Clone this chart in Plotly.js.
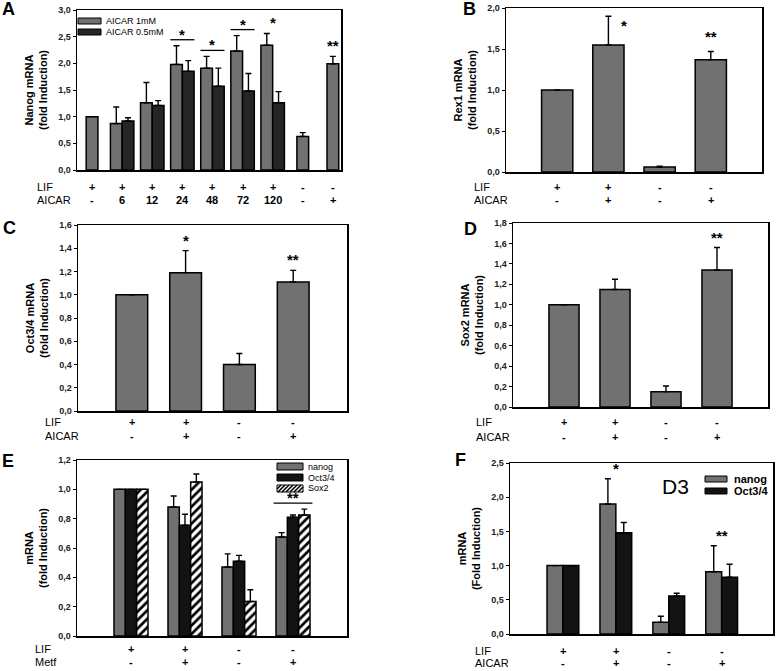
<!DOCTYPE html>
<html>
<head>
<meta charset="utf-8">
<script src="https://cdn.plot.ly/plotly-3.0.1.min.js"></script>
<style>
body{margin:0;background:#fff}
#fig{width:777px;height:671px}
</style>
</head>
<body>
<div id="fig"></div>
<script>
// ---- data ----
// A: nanog time course (hours of AICAR)
var catsA = [0,1,2,3,4,5,6,7,8];
var lifA = ['+','+','+','+','+','+','+','-','-'];
var aicarA = ['-','6','12','24','48','72','120','-','+'];
var nanog1mM = [1.0,0.87,1.26,1.98,1.91,2.23,2.34,0.63,1.99];
var nanog1mMErr = [0,0.31,0.38,0.35,0.22,0.29,0.22,0.07,0.14];
var nanog05mM = [null,0.92,1.21,1.85,1.57,1.48,1.26,null,null];
var nanog05mMErr = [null,0.06,0.09,0.20,0.34,0.33,0.21,null,null];
var sigAIdx = [3,4,5,6,8];
var sigAText = ['*','*','*','*','**'];
var sigALine = [true,true,true,false,false];

// B, C, D, F: four conditions
var cats4 = [0,1,2,3];
var lif4 = ['+','+','-','-'];
var drug4 = ['-','+','-','+'];

var rex1 = [1.0,1.55,0.06,1.37];
var rex1Err = [0,0.35,0.01,0.10];
var sigBIdx = [1,3];
var sigBText = ['*','**'];

var oct34 = [1.0,1.19,0.40,1.11];
var oct34Err = [0,0.19,0.095,0.10];
var sigCIdx = [1,3];
var sigCText = ['*','**'];

var sox2 = [1.0,1.15,0.15,1.34];
var sox2Err = [0,0.10,0.055,0.22];
var sigDIdx = [3];
var sigDText = ['**'];

// E: metformin
var metfNanog = [1.0,0.88,0.47,0.675];
var metfNanogErr = [0,0.075,0.09,0.03];
var metfOct = [1.0,0.755,0.51,0.81];
var metfOctErr = [0,0.075,0.04,0.015];
var metfSox = [1.0,1.05,0.235,0.825];
var metfSoxErr = [0,0.055,0.08,0.04];
var sigEIdx = [3];
var sigEText = ['**'];

// F: D3 cells
var d3Nanog = [1.0,1.90,0.17,0.91];
var d3NanogErr = [0,0.37,0.09,0.38];
var d3Oct = [1.0,1.48,0.555,0.83];
var d3OctErr = [0,0.15,0.04,0.19];
var sigFIdx = [1,3];
var sigFText = ['*','**'];

// ---- helpers ----
var W = 777, H = 671;
var FONT = 'Liberation Sans, Arial, sans-serif';
var GRAY = '#717171', DARK = '#262626', BLACK = '#131313';
function px(x){ return x / W; }
function py(y){ return 1 - y / H; }

var data = [], annotations = [], shapes = [];
var layout = {
  width: W, height: H,
  margin: {l:0, r:0, t:0, b:0},
  paper_bgcolor: '#fff', plot_bgcolor: '#fff',
  font: {family: FONT, color: '#000'},
  separators: ',.',
  barmode: 'overlay',
  showlegend: false
};

// panel geometry in pixels
var panels = {
  A: {s:'',  x:[77,341],  y:[10,170],  xr:[-0.5,8.27], yr:[0,3],   dt:0.5, title:'Nanog mRNA<br>(fold Induction)'},
  B: {s:'2', x:[506,762], y:[8,172],   xr:[-1,4],     yr:[0,2],   dt:0.5, title:'Rex1 mRNA<br>(fold Induction)'},
  C: {s:'3', x:[78,347],  y:[225,411], xr:[-1,4],     yr:[0,1.6], dt:0.2, title:'Oct3/4 mRNA<br>(fold Induction)'},
  D: {s:'4', x:[513,768], y:[223,407], xr:[-1,4],     yr:[0,1.8], dt:0.2, title:'Sox2 mRNA<br>(fold Induction)'},
  E: {s:'5', x:[77,347],  y:[460,636], xr:[-1,4],     yr:[0,1.2], dt:0.2, title:'mRNA<br>(fold Induction)'},
  F: {s:'6', x:[510,773], y:[463,634], xr:[-1,3.97],  yr:[0,2.5], dt:0.5, title:'mRNA<br>(Fold Induction)'}
};

function setupAxes(p){
  layout['xaxis'+p.s] = {
    domain:[px(p.x[0]), px(p.x[1])], range:p.xr, anchor:'y'+p.s,
    showline:true, mirror:true, linecolor:'#000', linewidth:1.5,
    showticklabels:false, ticks:'', showgrid:false, zeroline:false, fixedrange:true
  };
  layout['yaxis'+p.s] = {
    domain:[py(p.y[1]), py(p.y[0])], range:p.yr, anchor:'x'+p.s, dtick:p.dt,
    tickformat:'.1f', ticks:'outside', ticklen:3, tickwidth:1, tickcolor:'#000',
    showline:true, mirror:true, linecolor:'#000', linewidth:1.5,
    showgrid:false, zeroline:false, fixedrange:true, automargin:false,
    tickfont:{size:9, weight:'bold', color:'#222'},
    title:{text:p.title, font:{size:11, weight:'bold'}, standoff:8}
  };
}

function pxPerUnit(p){ return (p.y[1] - p.y[0]) / (p.yr[1] - p.yr[0]); }

function errBar(arr){
  return {type:'data', array:arr, arrayminus:arr.map(function(v){ return v == null ? null : 0; }),
          symmetric:false, color:'#000', thickness:1.4, width:3};
}

function addBar(p, x, y, err, color, w, off, hatch){
  var t = {
    type:'bar', x:x, y:y, width:w, offset:off,
    xaxis:'x'+p.s, yaxis:'y'+p.s,
    marker:{color:color, line:{color:'#000', width:1.5}},
    error_y: errBar(err), hoverinfo:'skip'
  };
  if (hatch) t.marker.pattern = {shape:'/', fgcolor:'#000', bgcolor:'#fff', size:6, solidity:0.45};
  data.push(t);
}

function rows(p, x, row1, row2, names, labelX, y1, y2){
  [[row1,y1],[row2,y2]].forEach(function(r, k){
    annotations.push({xref:'paper', yref:'paper', x:px(labelX), y:py(r[1]), xanchor:'left', yanchor:'middle',
      text:names[k], showarrow:false, font:{size:11}});
    r[0].forEach(function(v, i){
      annotations.push({xref:'x'+p.s, yref:'paper', x:x[i], y:py(r[1]), xanchor:'center', yanchor:'middle',
        text:v, showarrow:false, font:{size:11, weight:'bold'}});
    });
  });
}

// stars above the highest error bar of a group, optional bracket line
function sig(p, idx, text, series, withLine, halfSpan, xshift, yshift){
  var top = 0;
  series.forEach(function(s){
    var v = s[0][idx], e = s[1][idx];
    if (v != null) top = Math.max(top, v + (e || 0));
  });
  var y = top, ys = yshift || 0;
  if (withLine){
    y = top + 6 / pxPerUnit(p);
    shapes.push({type:'line', xref:'x'+p.s, yref:'y'+p.s, x0:idx-halfSpan, x1:idx+halfSpan, y0:y, y1:y,
      line:{color:'#000', width:1.3}});
    ys = -5;
  }
  annotations.push({xref:'x'+p.s, yref:'y'+p.s, x:idx, y:y, xanchor:'center', yanchor:'bottom',
    text:text, showarrow:false, font:{size:15, weight:'bold'}, xshift:xshift || 0, yshift:ys});
}

function letter(t, x, y){
  annotations.push({xref:'paper', yref:'paper', x:px(x), y:py(y), xanchor:'center', yanchor:'middle',
    text:t, showarrow:false, font:{size:18, weight:'bold'}});
}

// manual legend: swatch rectangles and names
function legendItem(x0, x1, y0, y1, fill, hatch, name, textX, fontSize, bold){
  shapes.push({type:'rect', xref:'paper', yref:'paper', x0:px(x0), x1:px(x1), y0:py(y1), y1:py(y0),
    fillcolor:fill, line:{color:'#000', width:1}});
  if (hatch){
    var h = y1 - y0, path = '';
    for (var x = x0 - h; x < x1; x += 4){
      var ax = x, ay = y1, bx = x + h, by = y0;
      if (ax < x0){ ay = y1 - (x0 - ax); ax = x0; }
      if (bx > x1){ by = y0 + (bx - x1); bx = x1; }
      path += 'M' + px(ax) + ',' + py(ay) + 'L' + px(bx) + ',' + py(by);
    }
    shapes.push({type:'path', xref:'paper', yref:'paper', path:path, line:{color:'#000', width:1.6}});
  }
  annotations.push({xref:'paper', yref:'paper', x:px(textX), y:py((y0 + y1) / 2), xanchor:'left', yanchor:'middle',
    text:name, showarrow:false, font:{size:fontSize, weight:bold ? 'bold' : 'normal'}, borderpad:0});
}

Object.keys(panels).forEach(function(k){ setupAxes(panels[k]); });

// ---- A ----
var pA = panels.A, wA = 0.39;
addBar(pA, catsA, nanog1mM, nanog1mMErr, GRAY, wA,
  nanog05mM.map(function(v){ return v == null ? -wA / 2 : -wA; }));
addBar(pA, catsA, nanog05mM, nanog05mMErr, DARK, wA, 0);
rows(pA, catsA, lifA, aicarA, ['LIF','AICAR'], 35, 187, 200);
sigAIdx.forEach(function(idx, i){
  sig(pA, idx, sigAText[i], [[nanog1mM,nanog1mMErr],[nanog05mM,nanog05mMErr]], sigALine[i], 0.4);
});
legendItem(78, 101, 18, 24, GRAY, false, 'AICAR 1mM', 105, 9);
legendItem(78, 101, 29, 35, DARK, false, 'AICAR 0.5mM', 105, 9);
letter('A', 8, 9);

// ---- B ----
var pB = panels.B;
addBar(pB, cats4, rex1, rex1Err, GRAY, 0.61);
rows(pB, cats4, lif4, drug4, ['LIF','AICAR'], 472, 187, 200);
sig(pB, sigBIdx[0], sigBText[0], [[rex1,rex1Err]], false, 0, 16, -20);
sig(pB, sigBIdx[1], sigBText[1], [[rex1,rex1Err]], false, 0, 0, 4);
letter('B', 469, 9);

// ---- C ----
var pC = panels.C;
addBar(pC, cats4, oct34, oct34Err, GRAY, 0.59);
rows(pC, cats4, lif4, drug4, ['LIF','AICAR'], 43, 422, 436);
sigCIdx.forEach(function(idx, i){ sig(pC, idx, sigCText[i], [[oct34,oct34Err]], false, 0); });
letter('C', 9, 228);

// ---- D ----
var pD = panels.D;
addBar(pD, cats4, sox2, sox2Err, GRAY, 0.59);
rows(pD, cats4, lif4, drug4, ['LIF','AICAR'], 474, 422, 437);
sigDIdx.forEach(function(idx, i){ sig(pD, idx, sigDText[i], [[sox2,sox2Err]], false, 0); });
letter('D', 470, 229);

// ---- E ----
var pE = panels.E, wE = 0.21;
addBar(pE, cats4, metfNanog, metfNanogErr, GRAY, wE, -1.5 * wE);
addBar(pE, cats4, metfOct, metfOctErr, BLACK, wE, -0.5 * wE);
addBar(pE, cats4, metfSox, metfSoxErr, '#fff', wE, 0.5 * wE, true);
rows(pE, cats4, lif4, drug4, ['LIF','Metf'], 33, 649, 662);
sigEIdx.forEach(function(idx, i){
  sig(pE, idx, sigEText[i], [[metfNanog,metfNanogErr],[metfOct,metfOctErr],[metfSox,metfSoxErr]], true, 0.36);
});
legendItem(277, 303, 463, 470, GRAY, false, 'nanog', 307, 9);
legendItem(277, 303, 474, 481, BLACK, false, 'Oct3/4', 307, 9);
legendItem(277, 303, 485, 492, '#fff', true, 'Sox2', 307, 9);
letter('E', 8, 461);

// ---- F ----
var pF = panels.F, wF = 0.30;
addBar(pF, cats4, d3Nanog, d3NanogErr, GRAY, wF, -wF);
addBar(pF, cats4, d3Oct, d3OctErr, BLACK, wF, 0);
rows(pF, cats4, lif4, drug4, ['LIF','AICAR'], 473, 651, 663);
sigFIdx.forEach(function(idx, i){
  sig(pF, idx, sigFText[i], [[d3Nanog,d3NanogErr],[d3Oct,d3OctErr]], false, 0);
});
legendItem(705, 727, 476, 482, GRAY, false, 'nanog', 733, 11, true);
legendItem(705, 727, 488, 494, BLACK, false, 'Oct3/4', 733, 11, true);
annotations.push({xref:'paper', yref:'paper', x:px(675), y:py(486), xanchor:'center', yanchor:'middle',
  text:'D3', showarrow:false, font:{size:21}});
letter('F', 460, 460);

layout.annotations = annotations;
layout.shapes = shapes;

Plotly.newPlot('fig', data, layout, {staticPlot:true});
</script>
</body>
</html>
